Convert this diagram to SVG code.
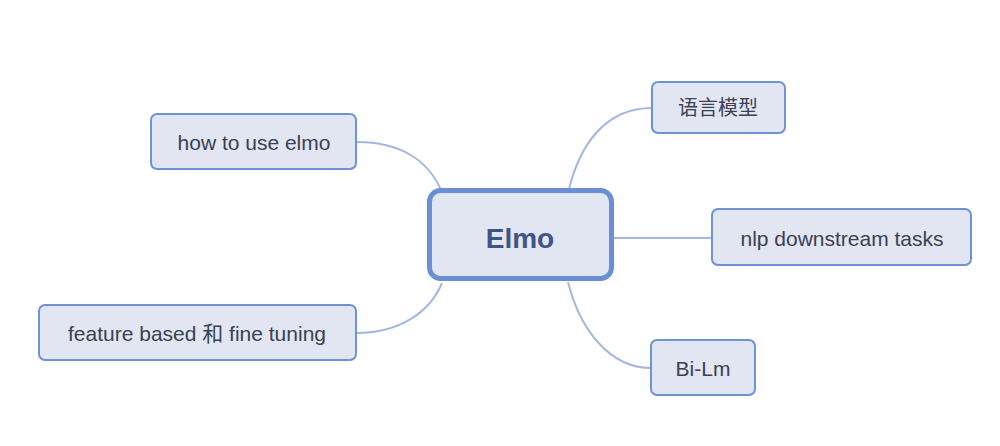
<svg xmlns="http://www.w3.org/2000/svg" width="1000" height="446" viewBox="0 0 1000 446">
<style>
.node rect{fill:#e1e6f2;stroke:#6e92d2;stroke-width:2}
.node text{font-family:"Liberation Sans","Noto Sans CJK SC",sans-serif;font-size:21px;fill:#3a4152;text-anchor:middle;dominant-baseline:central}
#n-root rect{stroke-width:5;stroke:#6a8fd3}
#n-root text{font-size:28px;font-weight:bold;fill:#3e5585}
.conn path{fill:none;stroke:#a3b7df;stroke-width:2}
</style>
<rect width="1000" height="446" fill="#ffffff"/>
<g class="conn" id="connectors">
<path d="M357,142 C400,142 428,160 441,190"/>
<path d="M652,108 C605,108 580,145 569,189"/>
<path d="M612,238 L712,238"/>
<path d="M356,333 C400,333 430,312 442,283"/>
<path d="M568,282 C580,330 610,368 651,368"/>
</g>
<g class="node" id="n-root"><rect x="429.5" y="190.5" width="182" height="88" rx="11"/><text x="520" y="238">Elmo</text></g>
<g class="node" id="n-how"><rect x="151" y="114" width="205" height="55" rx="6"/><text x="254" y="142">how to use elmo</text></g>
<g class="node" id="n-lm"><rect x="652" y="82" width="133" height="51" rx="6"/><text x="718" y="108" style="font-size:20px">语言模型</text></g>
<g class="node" id="n-nlp"><rect x="712" y="209" width="259" height="56" rx="6"/><text x="842" y="238">nlp downstream tasks</text></g>
<g class="node" id="n-bilm"><rect x="651" y="340" width="104" height="55" rx="6"/><text x="703" y="368">Bi-Lm</text></g>
<g class="node" id="n-feat"><rect x="39" y="305" width="317" height="55" rx="6"/><text x="197" y="333">feature based 和 fine tuning</text></g>
</svg>
